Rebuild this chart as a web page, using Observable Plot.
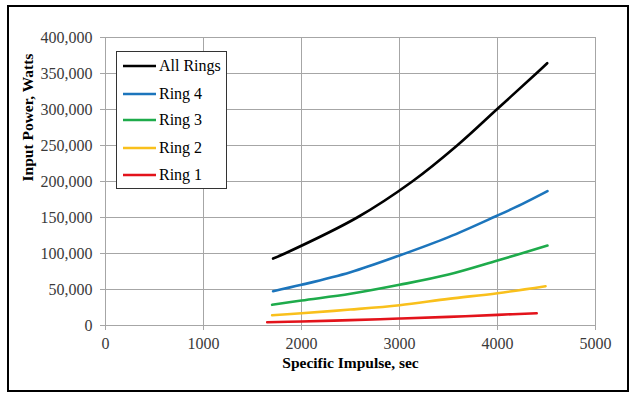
<!DOCTYPE html>
<html>
<head>
<meta charset="utf-8">
<script src="https://cdn.jsdelivr.net/npm/d3@7"></script>
<script src="https://cdn.jsdelivr.net/npm/@observablehq/plot@0.6"></script>
<style>
  html, body { margin: 0; padding: 0; background: #fff; }
  #wrap { position: relative; width: 631px; height: 394px; overflow: hidden; }
  #outer { position: absolute; left: 7px; top: 5px; width: 622px; height: 387px; box-sizing: border-box; border: 2px solid #000; pointer-events: none; }
  #legend { position: absolute; left: 116px; top: 51px; width: 111px; height: 138px; box-sizing: border-box; border: 1px solid #333; background: #fff; font-family: 'Liberation Serif', 'Times New Roman', serif; font-size: 16px; color: #000; }
  .item { position: absolute; left: 5px; height: 20px; display: flex; align-items: center; }
  .item svg { margin-right: 2px; }
</style>
</head>
<body>
<div id="wrap">
  <div id="chart"></div>
  <div id="outer"></div>
  <div id="legend"></div>
</div>
<script>
// Series names and colours
const seriesNames = ["All Rings", "Ring 4", "Ring 3", "Ring 2", "Ring 1"];
const seriesColors = ["#000000", "#1c75bc", "#1eab4b", "#f9c01c", "#e3131b"];

// Specific impulse (sec) and input power (W) per series
const allRingsIsp   = [1710, 1830, 2568, 3130, 3588, 4000, 4395, 4507];
const allRingsPower = [93000, 100000, 150000, 200000, 250000, 301000, 350000, 364300];

const ring4Isp   = [1710, 2000, 2500, 3000, 3500, 4000, 4250, 4510];
const ring4Power = [47700, 56500, 74000, 97200, 122700, 152800, 168500, 186500];

const ring3Isp   = [1700, 2000, 2500, 3000, 3500, 4000, 4510];
const ring3Power = [28700, 34700, 44000, 56500, 70800, 90300, 111000];

const ring2Isp   = [1700, 2000, 2500, 3000, 3500, 4000, 4490];
const ring2Power = [14300, 17100, 22200, 28200, 37000, 44900, 54600];

const ring1Isp   = [1650, 2000, 2500, 3000, 3500, 4000, 4400];
const ring1Power = [4600, 5600, 7400, 9700, 12000, 14800, 17100];

// Axis ticks
const xTicks = [0, 1000, 2000, 3000, 4000, 5000];
const yTicks = [0, 50000, 100000, 150000, 200000, 250000, 300000, 350000, 400000];

const xTitle = "Specific Impulse, sec";
const yTitle = "Input Power, Watts";

const seriesData = [
  [allRingsIsp, allRingsPower],
  [ring4Isp, ring4Power],
  [ring3Isp, ring3Power],
  [ring2Isp, ring2Power],
  [ring1Isp, ring1Power]
];
const rows = [];
seriesData.forEach(([xs, ys], i) => {
  xs.forEach((x, j) => rows.push({series: seriesNames[i], isp: x, power: ys[j]}));
});

const grid = "#a6a6a6";
const chart = Plot.plot({
  width: 631,
  height: 394,
  marginLeft: 105,
  marginRight: 36,
  marginTop: 37,
  marginBottom: 69,
  style: { fontFamily: "'Liberation Serif', 'Times New Roman', serif", fontSize: "16px", background: "transparent", color: "#000" },
  x: { domain: [0, 5000] },
  y: { domain: [0, 400000] },
  color: { domain: seriesNames, range: seriesColors },
  marks: [
    Plot.gridX(xTicks, { stroke: grid, strokeOpacity: 1, strokeWidth: 1 }),
    Plot.gridY(yTicks, { stroke: grid, strokeOpacity: 1, strokeWidth: 1 }),
    Plot.frame({ stroke: grid, strokeWidth: 1 }),
    Plot.axisX(xTicks, { tickSize: 5, tickPadding: 7, tickFormat: d => String(d), stroke: grid, fill: "#3a3a3a", label: null, fontSize: 16 }),
    Plot.axisY(yTicks, { tickSize: 5, tickPadding: 8, tickFormat: d3.format(","), stroke: grid, fill: "#3a3a3a", label: null, fontSize: 16 }),
    Plot.line(rows, { x: "isp", y: "power", z: "series", stroke: "series", strokeWidth: 2.6, curve: "catmull-rom" }),
    Plot.text([xTitle], { frameAnchor: "bottom", dy: 42, fontWeight: "bold", fontSize: 15.5, fill: "#000" }),
    Plot.text([yTitle], { frameAnchor: "left", dx: -77, rotate: -90, fontWeight: "bold", fontSize: 15.5, fill: "#000" })
  ]
});
document.getElementById("chart").appendChild(chart);

// Legend
const legend = document.getElementById("legend");
const rowTops = [4, 32, 58, 86, 113];
seriesNames.forEach((name, i) => {
  const item = document.createElement("div");
  item.className = "item";
  item.style.top = rowTops[i] + "px";
  item.innerHTML = `<svg width="35" height="6"><line x1="1" y1="3" x2="34" y2="3" stroke="${seriesColors[i]}" stroke-width="2.6"/></svg><span>${name}</span>`;
  legend.appendChild(item);
});
</script>
</body>
</html>
